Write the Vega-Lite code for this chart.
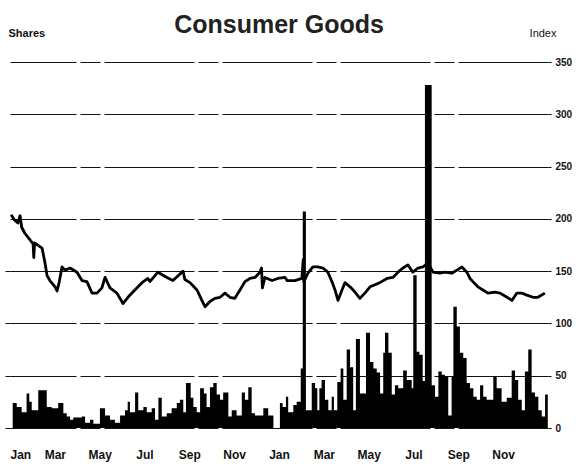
{
  "$schema": "https://vega.github.io/schema/vega-lite/v6.json",
  "width": 538,
  "height": 366,
  "autosize": "none",
  "padding": {"left": 10, "top": 62, "right": 34, "bottom": 38},
  "background": "white",
  "title": {"text": "Consumer Goods", "fontSize": 25, "font": "Liberation Sans", "fontWeight": "bold", "anchor": "middle", "color": "#222", "offset": -11},
  "config": {"view": {"stroke": null}, "axis": {"labelFont": "Liberation Sans", "titleFont": "Liberation Sans", "labelColor": "#111", "titleColor": "#111"}},
  "datasets": {
    "vol": [
      {"m": 0.12, "v": 24}, {"m": 0.30, "v": 20}, {"m": 0.52, "v": 15}, {"m": 0.74, "v": 33}, {"m": 0.86, "v": 25},
      {"m": 0.97, "v": 17}, {"m": 1.26, "v": 36}, {"m": 1.64, "v": 20}, {"m": 1.86, "v": 19}, {"m": 2.15, "v": 24},
      {"m": 2.38, "v": 14}, {"m": 2.53, "v": 11}, {"m": 2.68, "v": 8}, {"m": 2.82, "v": 10}, {"m": 3.20, "v": 11},
      {"m": 3.35, "v": 5}, {"m": 3.57, "v": 8}, {"m": 3.72, "v": 4}, {"m": 4.01, "v": 19}, {"m": 4.24, "v": 12},
      {"m": 4.46, "v": 8}, {"m": 4.68, "v": 5}, {"m": 4.91, "v": 12}, {"m": 5.13, "v": 17}, {"m": 5.25, "v": 25},
      {"m": 5.35, "v": 15}, {"m": 5.58, "v": 34}, {"m": 5.72, "v": 17}, {"m": 5.95, "v": 20}, {"m": 6.10, "v": 15},
      {"m": 6.32, "v": 19}, {"m": 6.47, "v": 8}, {"m": 6.62, "v": 29}, {"m": 6.77, "v": 11}, {"m": 6.99, "v": 14},
      {"m": 7.21, "v": 19}, {"m": 7.44, "v": 24}, {"m": 7.58, "v": 27}, {"m": 7.73, "v": 15}, {"m": 7.85, "v": 43},
      {"m": 8.06, "v": 29}, {"m": 8.18, "v": 20}, {"m": 8.33, "v": 15}, {"m": 8.48, "v": 38}, {"m": 8.65, "v": 33},
      {"m": 8.77, "v": 20}, {"m": 8.92, "v": 39}, {"m": 9.07, "v": 43}, {"m": 9.22, "v": 32}, {"m": 9.37, "v": 27},
      {"m": 9.51, "v": 34}, {"m": 9.74, "v": 11}, {"m": 9.89, "v": 17}, {"m": 10.11, "v": 12}, {"m": 10.34, "v": 34},
      {"m": 10.48, "v": 27}, {"m": 10.63, "v": 39}, {"m": 10.78, "v": 14}, {"m": 10.93, "v": 12}, {"m": 11.30, "v": 19},
      {"m": 11.52, "v": 12}, {"m": 11.75, "v": 0},
      {"m": 12.04, "v": 24}, {"m": 12.16, "v": 20}, {"m": 12.31, "v": 30}, {"m": 12.41, "v": 15}, {"m": 12.64, "v": 22},
      {"m": 12.79, "v": 25}, {"m": 12.97, "v": 57}, {"m": 13.06, "v": 207}, {"m": 13.20, "v": 17}, {"m": 13.46, "v": 43},
      {"m": 13.61, "v": 38}, {"m": 13.71, "v": 17}, {"m": 13.80, "v": 38}, {"m": 13.90, "v": 46}, {"m": 14.05, "v": 27},
      {"m": 14.20, "v": 17}, {"m": 14.35, "v": 30}, {"m": 14.45, "v": 17}, {"m": 14.60, "v": 44}, {"m": 14.75, "v": 57},
      {"m": 14.87, "v": 27}, {"m": 15.02, "v": 75}, {"m": 15.17, "v": 58}, {"m": 15.31, "v": 17}, {"m": 15.43, "v": 85},
      {"m": 15.61, "v": 33}, {"m": 15.88, "v": 91}, {"m": 16.06, "v": 63}, {"m": 16.21, "v": 57}, {"m": 16.36, "v": 53},
      {"m": 16.51, "v": 33}, {"m": 16.65, "v": 72}, {"m": 16.73, "v": 91}, {"m": 16.88, "v": 72}, {"m": 17.03, "v": 32},
      {"m": 17.17, "v": 41}, {"m": 17.32, "v": 38}, {"m": 17.54, "v": 55}, {"m": 17.70, "v": 46}, {"m": 17.92, "v": 38},
      {"m": 17.99, "v": 146}, {"m": 18.14, "v": 73}, {"m": 18.26, "v": 70}, {"m": 18.41, "v": 45}, {"m": 18.51, "v": 328},
      {"m": 18.81, "v": 41}, {"m": 18.96, "v": 30}, {"m": 19.11, "v": 54}, {"m": 19.26, "v": 51}, {"m": 19.40, "v": 49},
      {"m": 19.55, "v": 12}, {"m": 19.70, "v": 49}, {"m": 19.78, "v": 116}, {"m": 19.93, "v": 97}, {"m": 20.07, "v": 72},
      {"m": 20.22, "v": 67}, {"m": 20.37, "v": 43}, {"m": 20.52, "v": 38}, {"m": 20.67, "v": 30}, {"m": 20.82, "v": 27},
      {"m": 20.97, "v": 41}, {"m": 21.11, "v": 30}, {"m": 21.26, "v": 27}, {"m": 21.56, "v": 49}, {"m": 21.71, "v": 38},
      {"m": 21.93, "v": 25}, {"m": 22.16, "v": 29}, {"m": 22.38, "v": 55}, {"m": 22.53, "v": 46}, {"m": 22.67, "v": 27},
      {"m": 22.83, "v": 17}, {"m": 22.97, "v": 54}, {"m": 23.12, "v": 75}, {"m": 23.27, "v": 34}, {"m": 23.42, "v": 30},
      {"m": 23.57, "v": 17}, {"m": 23.72, "v": 11}, {"m": 23.87, "v": 32}, {"m": 23.99, "v": 0}
    ],
    "idx": [
      {"m": 0.05, "v": 204}, {"m": 0.20, "v": 199}, {"m": 0.35, "v": 196}, {"m": 0.45, "v": 203}, {"m": 0.52, "v": 192},
      {"m": 0.67, "v": 186}, {"m": 0.85, "v": 181}, {"m": 1.03, "v": 176}, {"m": 1.06, "v": 163}, {"m": 1.10, "v": 177},
      {"m": 1.43, "v": 172}, {"m": 1.56, "v": 158}, {"m": 1.65, "v": 146}, {"m": 1.78, "v": 141}, {"m": 2.01, "v": 135},
      {"m": 2.10, "v": 131}, {"m": 2.20, "v": 140}, {"m": 2.32, "v": 154}, {"m": 2.45, "v": 151}, {"m": 2.68, "v": 153},
      {"m": 2.99, "v": 149}, {"m": 3.21, "v": 141}, {"m": 3.43, "v": 140}, {"m": 3.66, "v": 129}, {"m": 3.88, "v": 129},
      {"m": 4.10, "v": 134}, {"m": 4.24, "v": 144}, {"m": 4.46, "v": 134}, {"m": 4.77, "v": 129}, {"m": 5.04, "v": 119},
      {"m": 5.26, "v": 125}, {"m": 5.57, "v": 132}, {"m": 5.89, "v": 139}, {"m": 6.15, "v": 143}, {"m": 6.24, "v": 140},
      {"m": 6.60, "v": 149}, {"m": 7.00, "v": 144}, {"m": 7.27, "v": 141}, {"m": 7.72, "v": 150}, {"m": 7.80, "v": 142},
      {"m": 8.03, "v": 139}, {"m": 8.34, "v": 132}, {"m": 8.56, "v": 122}, {"m": 8.70, "v": 116}, {"m": 8.92, "v": 121},
      {"m": 9.14, "v": 124}, {"m": 9.37, "v": 125}, {"m": 9.59, "v": 129}, {"m": 9.81, "v": 125}, {"m": 10.03, "v": 124},
      {"m": 10.26, "v": 132}, {"m": 10.48, "v": 140}, {"m": 10.70, "v": 143}, {"m": 10.93, "v": 144}, {"m": 11.15, "v": 149},
      {"m": 11.22, "v": 153}, {"m": 11.26, "v": 134}, {"m": 11.37, "v": 144}, {"m": 11.69, "v": 141}, {"m": 11.95, "v": 143},
      {"m": 12.27, "v": 144}, {"m": 12.36, "v": 141}, {"m": 12.71, "v": 141}, {"m": 13.02, "v": 143}, {"m": 13.08, "v": 161},
      {"m": 13.11, "v": 140}, {"m": 13.29, "v": 148}, {"m": 13.51, "v": 154}, {"m": 13.74, "v": 154}, {"m": 13.96, "v": 153},
      {"m": 14.18, "v": 149}, {"m": 14.36, "v": 140}, {"m": 14.50, "v": 132}, {"m": 14.63, "v": 122}, {"m": 14.81, "v": 132},
      {"m": 14.94, "v": 139}, {"m": 15.17, "v": 135}, {"m": 15.39, "v": 130}, {"m": 15.61, "v": 124}, {"m": 15.83, "v": 129},
      {"m": 16.06, "v": 135}, {"m": 16.28, "v": 137}, {"m": 16.50, "v": 139}, {"m": 16.82, "v": 143}, {"m": 17.08, "v": 144},
      {"m": 17.31, "v": 149}, {"m": 17.53, "v": 153}, {"m": 17.75, "v": 156}, {"m": 17.97, "v": 149}, {"m": 18.20, "v": 153},
      {"m": 18.42, "v": 154}, {"m": 18.64, "v": 158}, {"m": 18.87, "v": 149}, {"m": 19.18, "v": 148}, {"m": 19.40, "v": 149},
      {"m": 19.71, "v": 148}, {"m": 19.94, "v": 151}, {"m": 20.16, "v": 154}, {"m": 20.38, "v": 149}, {"m": 20.52, "v": 143},
      {"m": 20.65, "v": 140}, {"m": 20.87, "v": 135}, {"m": 21.10, "v": 132}, {"m": 21.32, "v": 129}, {"m": 21.63, "v": 130},
      {"m": 21.86, "v": 129}, {"m": 22.17, "v": 125}, {"m": 22.39, "v": 122}, {"m": 22.61, "v": 129}, {"m": 22.84, "v": 129},
      {"m": 23.06, "v": 127}, {"m": 23.33, "v": 125}, {"m": 23.55, "v": 125}, {"m": 23.86, "v": 129}
    ]
  },
  "layer": [
    {
      "data": {"name": "vol"},
      "mark": {"type": "area", "interpolate": "step-after", "color": "black", "opacity": 1},
      "encoding": {
        "x": {"field": "m", "type": "quantitative", "scale": {"domain": [0, 24], "nice": false, "zero": false},
          "axis": {"orient": "bottom", "values": [0, 2, 4, 6, 8, 10, 12, 14, 16, 18, 20, 22], "domain": false, "ticks": false, "grid": false,
            "labelPadding": 21, "labelFontSize": 12, "labelFontWeight": "bold", "labelFlush": true, "labelFlushOffset": 0, "title": null,
            "labelExpr": "['Jan','Mar','May','Jul','Sep','Nov'][(datum.value/2)%6]"}},
        "y": {"field": "v", "type": "quantitative", "scale": {"domain": [0, 350], "nice": false},
          "axis": {"orient": "left", "values": [0, 50, 100, 150], "labels": false, "grid": false, "domain": false, "ticks": true, "tickSize": 5, "tickColor": "#111",
            "title": "Shares", "titleAngle": 0, "titleAlign": "left", "titleBaseline": "middle", "titleX": -2, "titleY": -29, "titleFontSize": 11, "titleFontWeight": "bold"}}
      }
    },
    {
      "data": {"name": "idx"},
      "mark": {"type": "line", "color": "black", "strokeWidth": 2.8, "strokeJoin": "round"},
      "encoding": {
        "x": {"field": "m", "type": "quantitative"},
        "y": {"field": "v", "type": "quantitative",
          "axis": {"orient": "right", "values": [0, 50, 100, 150, 200, 250, 300, 350], "grid": true, "gridColor": "#111", "gridWidth": 1, "gridDash": [90, 4, 20, 4],
            "domain": false, "ticks": true, "tickSize": 3, "tickColor": "#111", "labelPadding": 4, "labelFontSize": 10, "labelFontWeight": "bold",
            "title": "Index", "titleAngle": 0, "titleAlign": "right", "titleBaseline": "middle", "titleX": 8, "titleY": -29, "titleFontSize": 11, "titleFontWeight": "normal"}}
      }
    }
  ],
  "resolve": {"axis": {"y": "independent"}}
}
